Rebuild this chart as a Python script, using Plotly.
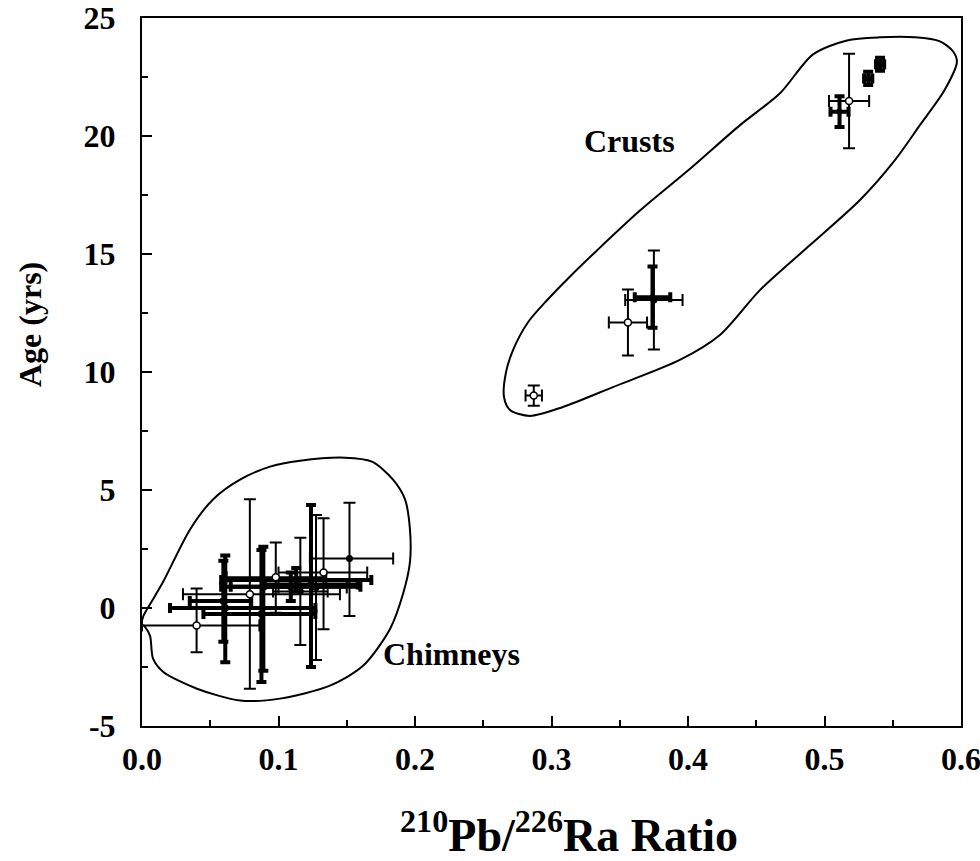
import plotly.graph_objects as go

# ---------------- data ----------------
# Chimneys - thin bars, open circles
chim_open_x = [0.040, 0.079, 0.098, 0.133]
chim_open_y = [-0.74, 0.58, 1.30, 1.50]
chim_open_xlo = [0.000, 0.030, 0.062, 0.100]
chim_open_xhi = [0.086, 0.145, 0.135, 0.165]
chim_open_ylo = [-1.88, -3.42, -0.20, -0.90]
chim_open_yhi = [0.83, 4.61, 2.78, 3.80]

# Chimneys - thin bars, filled dots
chim_dot_x = [0.152, 0.116, 0.1275]
chim_dot_y = [2.10, 0.70, 0.87]
chim_dot_xlo = [0.123, 0.096, 0.100]
chim_dot_xhi = [0.184, 0.136, 0.150]
chim_dot_ylo = [-0.34, -1.57, -2.20]
chim_dot_yhi = [4.46, 2.98, 3.94]

# Chimneys - thick bars
chim_thick_x = [0.061, 0.0875, 0.109, 0.113, 0.1238, 0.0889, 0.0596]
chim_thick_y = [0.00, -0.25, 0.90, 1.19, 1.00, 0.90, 0.30]
chim_thick_xlo = [0.0205, 0.045, 0.058, 0.058, 0.090, 0.065, 0.035]
chim_thick_xhi = [0.127, 0.127, 0.160, 0.168, 0.158, 0.113, 0.080]
chim_thick_ylo = [-2.30, -3.14, 0.30, 0.70, -2.50, -2.66, -1.43]
chim_thick_yhi = [2.22, 2.46, 1.50, 1.70, 4.36, 2.60, 2.00]

# Crusts - thin bars, open circles
crust_open_x = [0.287, 0.356, 0.518]
crust_open_y = [9.00, 12.10, 21.48]
crust_open_xerr = [0.006, 0.014, 0.0147]
crust_open_yerr = [0.43, 1.40, 2.00]

# Crusts - thin bars, filled dot
crust_dot_x = [0.375]
crust_dot_y = [13.05]
crust_dot_xerr = [0.021]
crust_dot_yerr = [2.10]

# Crusts - thick bars
crust_thick_x = [0.374, 0.511, 0.532, 0.5407]
crust_thick_y = [13.17, 21.03, 22.44, 23.04]
crust_thick_xerr = [0.013, 0.0066, 0.003, 0.003]
crust_thick_yerr = [1.30, 0.65, 0.28, 0.28]

# Outline of the "Chimneys" group
chim_env_x = [0.0, 0.001, 0.006, 0.0154, 0.0352, 0.052, 0.0718, 0.0938, 0.1158, 0.1487,
              0.1685, 0.1839, 0.1927, 0.1963, 0.1963, 0.1912, 0.1817, 0.1619, 0.1377,
              0.1011, 0.0718, 0.0403, 0.0154, 0.0081, 0.0059, 0.0022, 0.0]
chim_env_y = [-0.68, -0.34, 0.17, 1.10, 3.33, 4.60, 5.44, 5.99, 6.24, 6.37,
              6.20, 5.44, 4.60, 3.33, 1.94, 0.59, -0.89, -2.45, -3.29,
              -3.84, -3.92, -3.42, -2.70, -2.15, -1.18, -0.80, -0.68]

# Outline of the "Crusts" group
crust_env_x = [0.2652, 0.2667, 0.2718, 0.2828, 0.2967, 0.3136, 0.3333, 0.3648, 0.4015,
               0.4381, 0.4674, 0.4916, 0.5165, 0.5407, 0.5663, 0.5846, 0.5941, 0.5970,
               0.5880, 0.5700, 0.5516, 0.5260, 0.4894, 0.4527, 0.4234, 0.3940,
               0.3450, 0.3084, 0.2842, 0.2696, 0.2652]
crust_env_y = [8.94, 10.0, 10.93, 12.11, 13.04, 14.05, 15.15, 16.84, 18.61,
               20.46, 21.81, 23.46, 24.05, 24.18, 24.18, 24.01, 23.59, 23.14,
               21.95, 20.47, 18.98, 17.29, 15.38, 13.47, 11.57, 10.51,
               9.36, 8.52, 8.14, 8.39, 8.94]

x_ticks = [0.0, 0.1, 0.2, 0.3, 0.4, 0.5, 0.6]
x_tick_text = ["0.0", "0.1", "0.2", "0.3", "0.4", "0.5", "0.6"]
y_ticks = [-5, 0, 5, 10, 15, 20, 25]
y_tick_text = ["-5", "0", "5", "10", "15", "20", "25"]

# ---------------- figure ----------------
FONT = "Liberation Serif, Times New Roman, serif"
fig = go.Figure()

def diff_hi(c, hi):
    return [h - v for v, h in zip(c, hi)]

def diff_lo(c, lo):
    return [v - l for v, l in zip(c, lo)]

# envelopes
for ex, ey in ((chim_env_x, chim_env_y), (crust_env_x, crust_env_y)):
    fig.add_trace(go.Scatter(x=ex, y=ey, mode="lines",
                             line=dict(color="black", width=2, shape="spline", smoothing=0.8),
                             hoverinfo="skip", showlegend=False))

# chimney thick
fig.add_trace(go.Scatter(
    x=chim_thick_x, y=chim_thick_y, mode="markers",
    marker=dict(symbol="square", size=6, color="black"),
    error_x=dict(type="data", symmetric=False, array=diff_hi(chim_thick_x, chim_thick_xhi),
                 arrayminus=diff_lo(chim_thick_x, chim_thick_xlo), color="black", thickness=4, width=5),
    error_y=dict(type="data", symmetric=False, array=diff_hi(chim_thick_y, chim_thick_yhi),
                 arrayminus=diff_lo(chim_thick_y, chim_thick_ylo), color="black", thickness=4, width=5),
    showlegend=False))
# chimney thin dots
fig.add_trace(go.Scatter(
    x=chim_dot_x, y=chim_dot_y, mode="markers",
    marker=dict(symbol="circle", size=7, color="black"),
    error_x=dict(type="data", symmetric=False, array=diff_hi(chim_dot_x, chim_dot_xhi),
                 arrayminus=diff_lo(chim_dot_x, chim_dot_xlo), color="black", thickness=2, width=6),
    error_y=dict(type="data", symmetric=False, array=diff_hi(chim_dot_y, chim_dot_yhi),
                 arrayminus=diff_lo(chim_dot_y, chim_dot_ylo), color="black", thickness=2, width=6),
    showlegend=False))
# chimney open
fig.add_trace(go.Scatter(
    x=chim_open_x, y=chim_open_y, mode="markers",
    marker=dict(symbol="circle", size=7, color="white", line=dict(color="black", width=1.5)),
    error_x=dict(type="data", symmetric=False, array=diff_hi(chim_open_x, chim_open_xhi),
                 arrayminus=diff_lo(chim_open_x, chim_open_xlo), color="black", thickness=2, width=6),
    error_y=dict(type="data", symmetric=False, array=diff_hi(chim_open_y, chim_open_yhi),
                 arrayminus=diff_lo(chim_open_y, chim_open_ylo), color="black", thickness=2, width=6),
    showlegend=False))

# crusts
fig.add_trace(go.Scatter(
    x=crust_thick_x, y=crust_thick_y, mode="markers",
    marker=dict(symbol="square", size=5, color="black"),
    error_x=dict(type="data", array=crust_thick_xerr, color="black", thickness=4, width=5),
    error_y=dict(type="data", array=crust_thick_yerr, color="black", thickness=4, width=5),
    showlegend=False))
fig.add_trace(go.Scatter(
    x=crust_dot_x, y=crust_dot_y, mode="markers",
    marker=dict(symbol="circle", size=7, color="black"),
    error_x=dict(type="data", array=crust_dot_xerr, color="black", thickness=2, width=6),
    error_y=dict(type="data", array=crust_dot_yerr, color="black", thickness=2, width=6),
    showlegend=False))
fig.add_trace(go.Scatter(
    x=crust_open_x, y=crust_open_y, mode="markers",
    marker=dict(symbol="circle", size=7, color="white", line=dict(color="black", width=1.5)),
    error_x=dict(type="data", array=crust_open_xerr, color="black", thickness=2, width=6),
    error_y=dict(type="data", array=crust_open_yerr, color="black", thickness=2, width=6),
    showlegend=False))

# group labels
fig.add_annotation(x=0.3575, y=19.8, text="<b>Crusts</b>", showarrow=False,
                   font=dict(family=FONT, size=32, color="black"))
fig.add_annotation(x=0.227, y=-1.94, text="<b>Chimneys</b>", showarrow=False,
                   font=dict(family=FONT, size=32, color="black"))

# axis titles
fig.add_annotation(xref="paper", yref="paper", x=0, y=0.5, xshift=-112, yshift=47,
                   xanchor="center", yanchor="middle", textangle=-90,
                   text="<b>Age (yrs)</b>", showarrow=False,
                   font=dict(family=FONT, size=32, color="black"))
fig.add_annotation(xref="paper", yref="paper", x=0.5, y=0, yshift=-106, xshift=17,
                   xanchor="center", yanchor="middle",
                   text="<b><sup>210</sup>Pb/<sup>226</sup>Ra Ratio</b>", showarrow=False,
                   font=dict(family=FONT, size=46, color="black"))

axis_common = dict(showgrid=False, zeroline=False, showline=True, mirror=True,
                   linecolor="black", linewidth=2, ticks="inside", tickcolor="black",
                   tickwidth=2, ticklen=10, automargin=False, ticklabeloverflow="allow",
                   tickfont=dict(family=FONT, size=32, color="black", weight="bold"))

fig.update_xaxes(range=[0, 0.6], tickvals=x_ticks, ticktext=x_tick_text,
                 minor=dict(ticks="inside", ticklen=6, tickwidth=2, tickcolor="black", dtick=0.05),
                 ticklabelstandoff=4, **axis_common)
fig.update_yaxes(range=[-5, 25], tickvals=y_ticks, ticktext=y_tick_text,
                 minor=dict(ticks="inside", ticklen=6, tickwidth=2, tickcolor="black", dtick=2.5),
                 ticklabelstandoff=18, **axis_common)

fig.update_layout(width=980, height=861, margin=dict(l=142, r=19, t=18, b=135),
                  plot_bgcolor="white", paper_bgcolor="white", showlegend=False)

fig.write_html("out.html", config={"displayModeBar": False},
               post_script="document.body.style.margin='0';document.body.style.overflow='hidden';")
